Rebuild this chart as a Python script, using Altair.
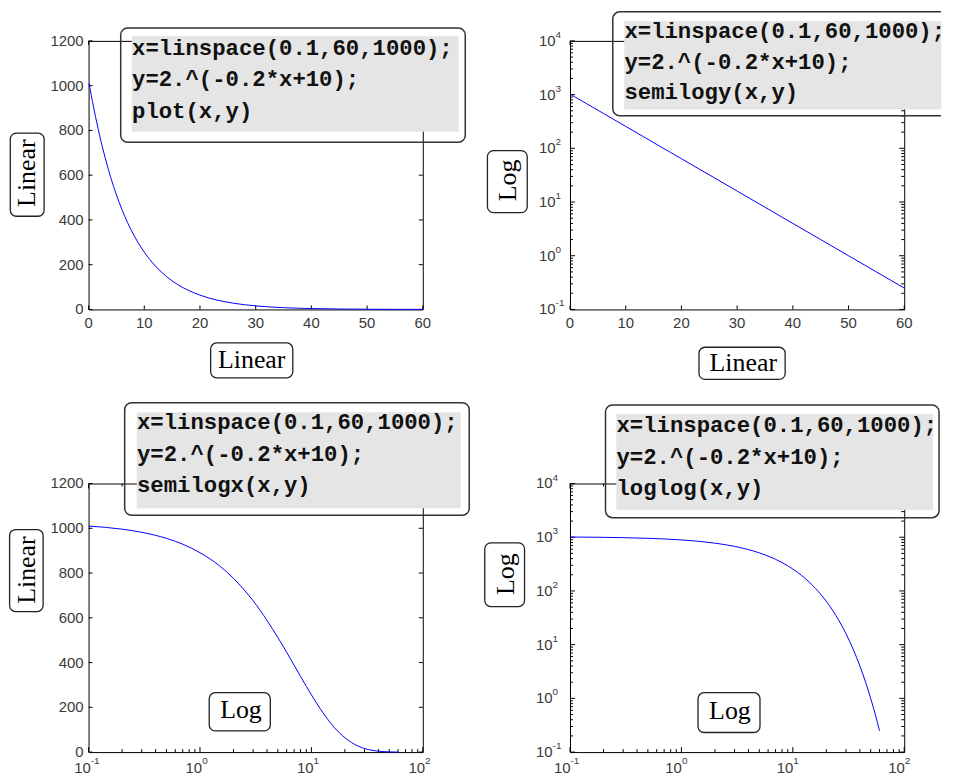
import altair as alt
import pandas as pd

# ---- data ----
x_values = [0.1, 0.2, 0.3, 0.5, 0.7, 1, 1.5, 2, 2.5, 3, 4, 5, 6, 7, 8, 9, 10, 12, 14,
            16, 18, 20, 23, 26, 30, 35, 40, 45, 50, 55, 60]
y_values = [1010, 996, 982, 955, 929, 891, 832, 776, 724, 676, 588, 512, 446, 388, 338,
            294, 256, 194, 147, 111, 84.4, 64, 42.2, 27.9, 16, 8, 4, 2, 1, 0.5, 0.25]

lin_x_ticks = [0, 10, 20, 30, 40, 50, 60]
lin_y_ticks = [0, 200, 400, 600, 800, 1000, 1200]
log_x_decades = [0.1, 1, 10, 100]
log_y_decades = [0.1, 1, 10, 100, 1000, 10000]
log_x_exps = ["-1", "0", "1", "2"]
log_y_exps = ["-1", "0", "1", "2", "3", "4"]
minor_mults = [2, 3, 4, 5, 6, 7, 8, 9]

code_lines = ["x=linspace(0.1,60,1000);", "y=2.^(-0.2*x+10);"]
plot_calls = ["plot(x,y)", "semilogy(x,y)", "semilogx(x,y)", "loglog(x,y)"]
x_titles = ["Linear", "Linear", "Log", "Log"]
y_titles = ["Linear", "Log", "Linear", "Log"]

curve = pd.DataFrame({"x": x_values, "y": y_values})
one = pd.DataFrame({"k": [0]})

TICK_FONT = "Liberation Sans"
TICK_COLOR = "#3a3a3a"
SERIF = "Liberation Serif"
MONO = "Liberation Mono"
W, H = 336, 270


def minors(decades):
    return [d * m for d in decades[:-1] for m in minor_mults]


def xticks(scale, vals, size):
    df = pd.DataFrame({"v": vals})
    bot = alt.Chart(df).mark_rule(color="#000000", strokeWidth=1).encode(
        x=alt.X("v:Q", scale=scale, axis=None), y=alt.value(H), y2=alt.value(H - size))
    top = alt.Chart(df).mark_rule(color="#000000", strokeWidth=1).encode(
        x=alt.X("v:Q", scale=scale, axis=None), y=alt.value(0), y2=alt.value(size))
    return [bot, top]


def yticks(scale, vals, size):
    df = pd.DataFrame({"v": vals})
    left = alt.Chart(df).mark_rule(color="#000000", strokeWidth=1).encode(
        y=alt.Y("v:Q", scale=scale, axis=None), x=alt.value(0), x2=alt.value(size))
    right = alt.Chart(df).mark_rule(color="#000000", strokeWidth=1).encode(
        y=alt.Y("v:Q", scale=scale, axis=None), x=alt.value(W), x2=alt.value(W - size))
    return [left, right]


def rect(x0, y0, x1, y1, **mk):
    return alt.Chart(one).mark_rect(**mk).encode(
        x=alt.value(x0), x2=alt.value(x1), y=alt.value(y0), y2=alt.value(y1))


def label(text, x, y, **mk):
    return alt.Chart(one).mark_text(**mk).encode(
        x=alt.value(x), y=alt.value(y), text=alt.value(text))


def make_panel(i, xlog, ylog, g):
    if xlog:
        xs = alt.Scale(type="log", domain=[0.1, 100], nice=False)
    else:
        xs = alt.Scale(domain=[0, 60], nice=False, zero=False)
    if ylog:
        ys = alt.Scale(type="log", domain=[0.1, 10000], nice=False)
    else:
        ys = alt.Scale(domain=[0, 1200], nice=False, zero=False)

    layers = []
    # x ticks and labels
    if xlog:
        layers += xticks(xs, log_x_decades, 5) + xticks(xs, minors(log_x_decades), 3)
        lab = pd.DataFrame({"v": log_x_decades, "base": ["10"] * 4, "exp": log_x_exps})
        layers.append(alt.Chart(lab).mark_text(
            align="right", baseline="middle", dx=g["xdx"], font=TICK_FONT, fontSize=15,
            color=TICK_COLOR).encode(x=alt.X("v:Q", scale=xs, axis=None),
                                      y=alt.value(H + 16.5), text="base:N"))
        layers.append(alt.Chart(lab).mark_text(
            align="left", baseline="middle", dx=g["xdx"], font=TICK_FONT, fontSize=10,
            color=TICK_COLOR).encode(x=alt.X("v:Q", scale=xs, axis=None),
                                      y=alt.value(H + 9), text="exp:N"))
    else:
        layers += xticks(xs, lin_x_ticks, 4)
        lab = pd.DataFrame({"v": lin_x_ticks})
        layers.append(alt.Chart(lab).mark_text(
            align="center", baseline="top", font=TICK_FONT, fontSize=15,
            color=TICK_COLOR).encode(x=alt.X("v:Q", scale=xs, axis=None),
                                      y=alt.value(H + 6.3),
                                      text=alt.Text("v:Q", format="d")))
    # y ticks and labels
    if ylog:
        layers += yticks(ys, log_y_decades, 5) + yticks(ys, minors(log_y_decades), 3)
        lab = pd.DataFrame({"v": log_y_decades, "base": ["10"] * 6, "exp": log_y_exps})
        layers.append(alt.Chart(lab).mark_text(
            align="right", baseline="middle", font=TICK_FONT, fontSize=15,
            color=TICK_COLOR).encode(y=alt.Y("v:Q", scale=ys, axis=None),
                                      x=alt.value(g["yax"]), text="base:N"))
        layers.append(alt.Chart(lab).mark_text(
            align="left", baseline="middle", dy=-6, font=TICK_FONT, fontSize=10,
            color=TICK_COLOR).encode(y=alt.Y("v:Q", scale=ys, axis=None),
                                      x=alt.value(g["yax"]), text="exp:N"))
    else:
        layers += yticks(ys, lin_y_ticks, 4)
        lab = pd.DataFrame({"v": lin_y_ticks})
        layers.append(alt.Chart(lab).mark_text(
            align="right", baseline="middle", font=TICK_FONT, fontSize=15,
            color=TICK_COLOR).encode(y=alt.Y("v:Q", scale=ys, axis=None),
                                      x=alt.value(-5),
                                      text=alt.Text("v:Q", format="d")))

    # curve
    layers.append(alt.Chart(curve).mark_line(
        color="#0000ff", strokeWidth=1, interpolate="monotone").encode(
        x=alt.X("x:Q", scale=xs, axis=None), y=alt.Y("y:Q", scale=ys, axis=None)))

    # code box
    x0, y0, x1, y1 = g["box"]
    if g.get("open_right"):
        # box runs off the right edge of the picture: leave its right side undrawn
        w, h = x1 - x0, y1 - y0
        layers.append(rect(x0, y0, x1, y1, fillOpacity=0, stroke="#333333",
                           strokeWidth=1.5, cornerRadiusTopLeft=7,
                           cornerRadiusBottomLeft=7,
                           strokeDash=[w - 7, h, 3000]))
    else:
        layers.append(rect(x0, y0, x1, y1, fillOpacity=0, stroke="#333333",
                           strokeWidth=1.5, cornerRadius=7))
    layers.append(rect(*g["gray"], fill="#e5e5e5", stroke="#e5e5e5", strokeWidth=0.5))
    lines = code_lines + [plot_calls[i]]
    for k, line in enumerate(lines):
        layers.append(label(line, g["tx"], g["ty"] + k * g["lh"], align="left",
                            baseline="alphabetic", font=MONO, fontWeight="bold",
                            fontSize=22.4, color="#111111"))

    # x title box
    layers.append(rect(*g["xbox"], fillOpacity=0, stroke="#222222", strokeWidth=1.3,
                       cornerRadius=6))
    layers.append(label(x_titles[i], g["xt"][0], g["xt"][1], align="center",
                        baseline="alphabetic", font=SERIF, fontSize=26, color="#000000"))
    # y title box
    layers.append(rect(*g["ybox"], fillOpacity=0, stroke="#222222", strokeWidth=1.3,
                       cornerRadius=6))
    layers.append(label(y_titles[i], g["yt"][0], g["yt"][1], align="center",
                        baseline="alphabetic", font=SERIF, fontSize=26, angle=270,
                        color="#000000"))

    return alt.layer(*layers).properties(width=W, height=H)


geoms = [
    dict(box=(32.3, -13, 378.7, 102), gray=(43.7, -4.7, 372, 91), tx=43.7, ty=13.7, lh=31.7,
         xbox=(122.7, 303.7, 205.3, 338.7), xt=(164, 328.7),
         ybox=(-78.7, 92.7, -44.7, 176.3), yt=(-54, 133)),
    dict(box=(43, -29.2, 373, 75.3), gray=(54.7, -19.7, 373, 68.7), tx=54.7, ty=-3, lh=30.9,
         xbox=(129.7, 308, 216.3, 340.3), xt=(174.2, 332), open_right=True,
         ybox=(-83, 110.3, -43, 172.7), yt=(-54.3, 140.3), yax=-14.5),
    dict(box=(36.3, -81.3, 382.7, 32), gray=(48.7, -71.3, 373.7, 24.7), tx=48.7, ty=-54.7, lh=31.7,
         xbox=(121.3, 210.3, 182.7, 248.7), xt=(153.2, 235.3),
         ybox=(-79.4, 46.3, -45.7, 128.7), yt=(-53.7, 87), xdx=2.2),
    dict(box=(35.7, -79, 371, 34.3), gray=(46.7, -69.7, 364.7, 26.3), tx=46.7, ty=-51.3, lh=31.65,
         xbox=(128.7, 210.3, 191, 250.3), xt=(160.8, 236.3),
         ybox=(-85.7, 59.7, -45.7, 123.7), yt=(-56.7, 91.2), yax=-17.5, xdx=0.5),
]

p1 = make_panel(0, False, False, geoms[0])
p2 = make_panel(1, False, True, geoms[1])
p3 = make_panel(2, True, False, geoms[2])
p4 = make_panel(3, True, True, geoms[3])

chart = alt.concat(p1, p2, p3, p4, columns=2, spacing={"row": 175, "column": 148},
                   bounds="flush").properties(
    padding=0, background="white").configure_view(stroke="#000000", strokeWidth=1)

chart.save("out.html", embed_options={"renderer": "svg", "actions": False})
